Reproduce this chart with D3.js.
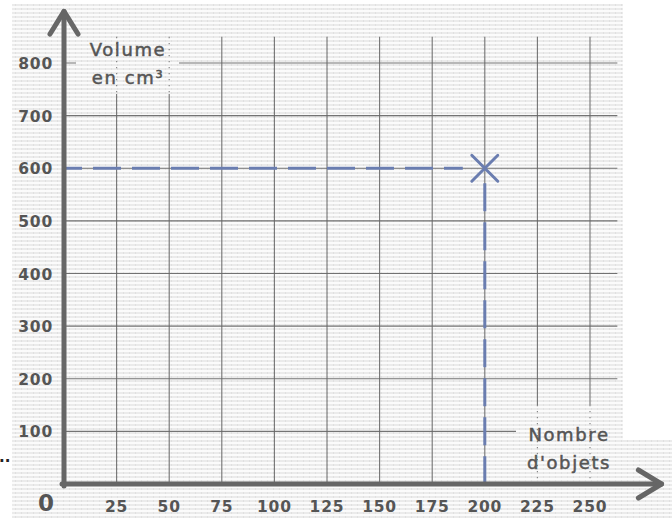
<!DOCTYPE html>
<html><head><meta charset="utf-8">
<script src="https://cdn.jsdelivr.net/npm/d3@7"></script>
<style>html,body{margin:0;padding:0;background:#fff;}svg{display:block;}</style>
</head><body>
<svg id="c" width="672" height="524"></svg>
<script>
const xTicks = [25, 50, 75, 100, 125, 150, 175, 200, 225, 250];
const yTicks = [100, 200, 300, 400, 500, 600, 700, 800];
const pointX = [200];
const pointY = [600];
const xTitle = ["Nombre", "d'objets"];
const yTitle = ["Volume", "en cm³"];

const svg = d3.select("#c");
const x = d3.scaleLinear().domain([0, 250]).range([64, 590]);
const y = d3.scaleLinear().domain([0, 800]).range([484, 63]);

const gridColor = "#666", axisColor = "#666", txt = "#555", blue = "#6a7db0";
const font = "DejaVu Sans, Verdana, sans-serif";

// background stripes
const defs = svg.append("defs");
const pat = defs.append("pattern").attr("id", "stripes").attr("patternUnits", "userSpaceOnUse")
  .attr("width", 6).attr("height", 4);
pat.append("rect").attr("width", 6).attr("height", 4).attr("fill", "#fbfbfb");
pat.append("rect").attr("y", 0).attr("width", 6).attr("height", 2).attr("fill", "#ebebeb");
pat.append("rect").attr("x", 3).attr("y", 0).attr("width", 1).attr("height", 2).attr("fill", "#e0e0e0");
svg.append("rect").attr("x", 12).attr("y", 4).attr("width", 611).attr("height", 514).attr("fill", "url(#stripes)");
svg.append("rect").attr("x", 623).attr("y", 440).attr("width", 49).attr("height", 78).attr("fill", "url(#stripes)");

// grid
const g = svg.append("g");
g.selectAll(".vg").data(xTicks).join("line")
  .attr("x1", d => x(d)).attr("x2", d => x(d))
  .attr("y1", y(850)).attr("y2", y(0))
  .attr("stroke", gridColor).attr("stroke-width", 1.1).attr("opacity", 0.9);
g.selectAll(".hg").data(yTicks).join("line")
  .attr("x1", x(0)).attr("x2", x(263))
  .attr("y1", d => y(d)).attr("y2", d => y(d))
  .attr("stroke", gridColor).attr("stroke-width", 1.1).attr("opacity", 0.9);

// title boxes (cover gridlines, then dotted)
function titleBox(x0, y0, w, h, lines, cx, by) {
  svg.append("rect").attr("x", x0).attr("y", y0).attr("width", w).attr("height", h).attr("fill", "url(#stripes)");
  xTicks.filter(d => x(d) > x0 && x(d) < x0 + w).forEach(d => {
    svg.append("line").attr("x1", x(d)).attr("x2", x(d)).attr("y1", y0).attr("y2", y0 + h)
      .attr("stroke", "#888").attr("stroke-width", 1.2).attr("stroke-dasharray", "1.2,4.8");
  });
  svg.selectAll(null).data(lines).join("text")
    .attr("x", cx).attr("y", (d, i) => by + i * 28)
    .attr("text-anchor", "middle").attr("font-family", font)
    .attr("font-size", 18).attr("letter-spacing", 1.6).attr("fill", txt)
    .attr("stroke", txt).attr("stroke-width", 0.5).text(d => d);
}
titleBox(76, 37, 103, 57, yTitle, 128, 56);
titleBox(516, 405, 106, 77, xTitle, 569, 441);

// tick labels
svg.selectAll(".yl").data(yTicks).join("text")
  .attr("x", 53).attr("y", d => y(d) + 6)
  .attr("text-anchor", "end").attr("font-family", font).attr("letter-spacing", 0.8)
  .attr("font-weight", "bold").attr("font-size", 15.5).attr("fill", txt).text(d => d);
svg.selectAll(".xl").data(xTicks).join("text")
  .attr("x", d => x(d)).attr("y", 512)
  .attr("text-anchor", "middle").attr("font-family", font).attr("letter-spacing", 0.8)
  .attr("font-weight", "bold").attr("font-size", 15.5).attr("fill", txt).text(d => d);
svg.append("text").attr("x", 46).attr("y", 511).attr("text-anchor", "middle")
  .attr("font-family", font).attr("font-weight", "bold")
  .attr("font-size", 23).attr("fill", txt).text("0");
svg.append("text").attr("x", -1).attr("y", 462).attr("font-family", font)
  .attr("font-weight", "bold").attr("font-size", 15).attr("fill", "#222").text("..");

// dashed projection lines + cross
const px = x(pointX[0]), py = y(pointY[0]);
svg.append("line").attr("x1", x(0)).attr("x2", px - 22).attr("y1", py).attr("y2", py)
  .attr("stroke", blue).attr("stroke-width", 3).attr("stroke-dasharray", "28,11")
  .attr("stroke-dashoffset", 10);
svg.append("line").attr("x1", px).attr("x2", px).attr("y1", py + 15).attr("y2", y(0))
  .attr("stroke", blue).attr("stroke-width", 3).attr("stroke-dasharray", "28,11");
svg.append("path").attr("d", `M${px-13},${py-13}L${px+13},${py+13}M${px-13},${py+13}L${px+13},${py-13}`)
  .attr("stroke", blue).attr("stroke-width", 3).attr("stroke-linecap", "round").attr("fill", "none");

// axes with arrows
const ax = svg.append("g").attr("stroke", axisColor).attr("stroke-width", 5).attr("fill", "none")
  .attr("stroke-linecap", "round").attr("stroke-linejoin", "round");
ax.append("line").attr("x1", x(0)).attr("x2", x(0)).attr("y1", y(0) + 2).attr("y2", y(898));
ax.append("line").attr("x1", x(0) - 2).attr("x2", x(284)).attr("y1", y(0)).attr("y2", y(0));
ax.append("path").attr("d", `M${x(0)-14},${y(855)}L${x(0)},${y(898)}L${x(0)+14},${y(855)}`);
ax.append("path").attr("d", `M${x(273)},${y(0)-14}L${x(284)},${y(0)}L${x(273)},${y(0)+14}`);
</script>
</body></html>
